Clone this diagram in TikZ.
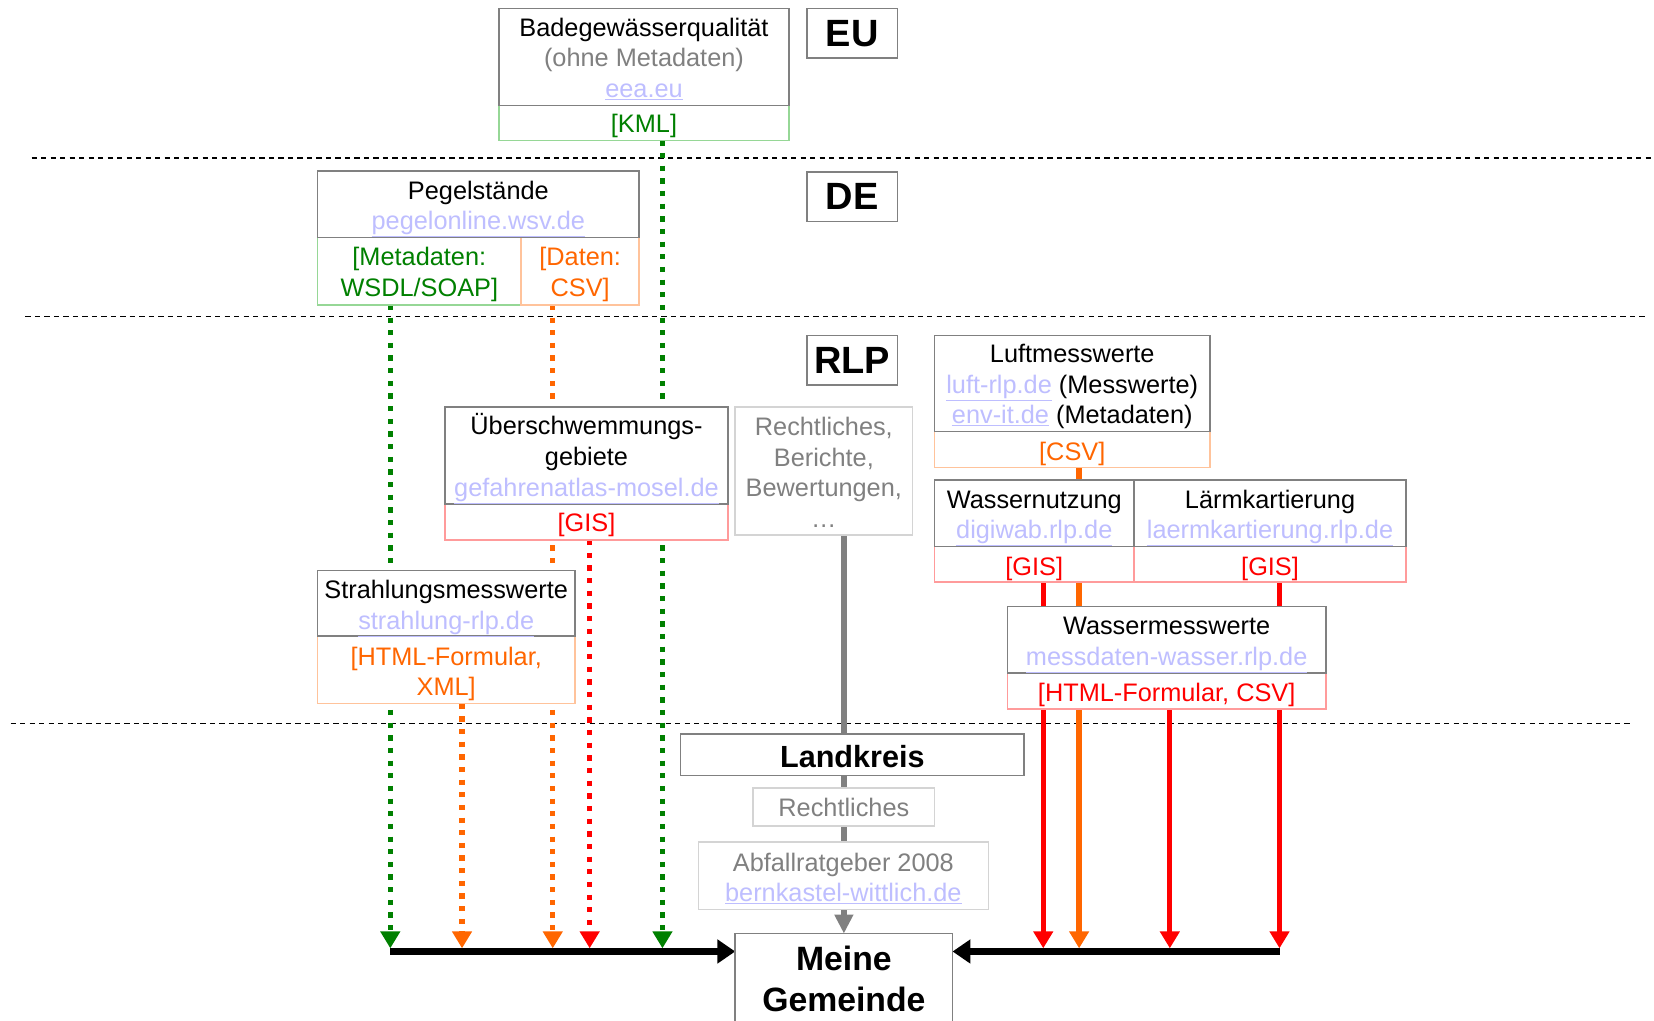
\documentclass[tikz,border=0pt]{standalone}
\usepackage{fontspec}
\setmainfont{Liberation Sans}
\usetikzlibrary{arrows.meta,backgrounds}
\definecolor{dkgreen}{RGB}{0,128,0}
\definecolor{orng}{RGB}{255,102,0}
\definecolor{lnk}{RGB}{190,190,255}
\definecolor{txtgray}{RGB}{128,128,128}
\definecolor{boxgray}{RGB}{128,128,128}
\definecolor{ltgreen}{RGB}{150,215,150}
\definecolor{ltorange}{RGB}{255,195,155}
\definecolor{ltred}{RGB}{255,155,155}
\definecolor{ltgray}{RGB}{212,212,212}
\newcommand\linktext[1]{\textcolor{lnk}{\underline{#1}}}
% text block, lowered by #1 pt inside its box (total size unchanged)
\newcommand\tx[2]{\raisebox{0pt}[\dimexpr\height+#1pt\relax][\dimexpr\depth-#1pt\relax]{\begin{tabular}{@{}c@{}}#2\end{tabular}}}
\tikzset{
  every node/.style={font=\fontsize{24}{29}\selectfont, inner sep=0pt, outer sep=0pt,
    align=center, anchor=north west, fill=white, line width=1.5pt},
  hd/.style={draw=boxgray},
  ftg/.style={draw=ltgreen, text=dkgreen},
  fto/.style={draw=ltorange, text=orng},
  ftr/.style={draw=ltred, text=red},
  lt/.style={draw=ltgray, text=txtgray},
  lvl/.style={draw=boxgray, font=\fontsize{36}{40}\selectfont\bfseries},
  sep/.style={black, line width=1.6pt, dash pattern=on 5pt off 4pt},
  dotl/.style={line width=5pt, dash pattern=on 5pt off 7pt, -{Triangle[width=18pt,length=16pt]}},
  soll/.style={line width=5pt, -{Triangle[width=18pt,length=16pt]}},
  blk/.style={black, line width=6.5pt, -{Triangle[width=22pt,length=17pt]}},
  gry/.style={txtgray, line width=5pt, -{Triangle[width=17pt,length=18pt]}}
}
\begin{document}
\begin{tikzpicture}[x=1pt,y=-1pt]
\useasboundingbox (0,0) rectangle (1568,967);

% level labels
\node[lvl, minimum width=86, minimum height=47] (eu) at (765,8) {EU};
\node[lvl, minimum width=86, minimum height=47] (de) at (765,163) {DE};
\node[lvl, minimum width=86, minimum height=47] (rlp) at (765,318) {RLP};

% EU
\node[ftg, minimum width=275, minimum height=33] (badef) at (473,100) {\tx{3.5}{[KML]}};
\node[hd, minimum width=275, minimum height=92] (bade) at (473,8)
  {\tx{3.7}{Badegewässerqualität\\\textcolor{txtgray}{(ohne Metadaten)}\\\linktext{eea.eu}}};

% DE
\node[ftg, minimum width=193, minimum height=64] (pegelm) at (301,225) {\tx{3.7}{[Metadaten:\\WSDL/SOAP]}};
\node[fto, minimum width=112, minimum height=64] (pegeld) at (494,225) {\tx{3.7}{[Daten:\\CSV]}};
\node[hd, minimum width=305, minimum height=63] (pegel) at (301,162)
  {\tx{4}{Pegelstände\\\linktext{pegelonline.wsv.de}}};

% RLP left
\node[ftr, minimum width=268, minimum height=34] (ueberf) at (422,478) {\tx{3.5}{[GIS]}};
\node[hd, minimum width=268, minimum height=92] (ueber) at (422,386)
  {\tx{3.5}{Überschwemmungs-\\gebiete\\\linktext{gefahrenatlas-mosel.de}}};
\node[lt, minimum width=168, minimum height=121] (recht) at (697,386)
  {\tx{4}{Rechtliches,\\Berichte,\\Bewertungen,\\…}};
\node[fto, minimum width=244, minimum height=64] (strahlf) at (301,603) {\tx{4.2}{[HTML-Formular,\\XML]}};
\node[hd, minimum width=244, minimum height=62] (strahl) at (301,541)
  {\tx{4}{Strahlungsmesswerte\\\linktext{strahlung-rlp.de}}};

% RLP right
\node[fto, minimum width=261, minimum height=34] (luftf) at (886,409) {\tx{4.5}{[CSV]}};
\node[hd, minimum width=261, minimum height=91] (luft) at (886,318)
  {\tx{3.5}{Luftmesswerte\\\linktext{luft-rlp.de} (Messwerte)\\\linktext{env-it.de} (Metadaten)}};
\node[ftr, minimum width=189, minimum height=34] (wnutzf) at (886,518) {\tx{4.5}{[GIS]}};
\node[ftr, minimum width=258, minimum height=34] (laermf) at (1075,518) {\tx{4.5}{[GIS]}};
\node[hd, minimum width=189, minimum height=63] (wnutz) at (886,455)
  {\tx{4}{Wassernutzung\\\linktext{digiwab.rlp.de}}};
\node[hd, minimum width=258, minimum height=63] (laerm) at (1075,455)
  {\tx{4}{Lärmkartierung\\\linktext{laermkartierung.rlp.de}}};
\node[ftr, minimum width=302, minimum height=34] (wmessf) at (955,638) {\tx{4.5}{[HTML-Formular, CSV]}};
\node[hd, minimum width=302, minimum height=63] (wmess) at (955,575)
  {\tx{4}{Wassermesswerte\\\linktext{messdaten-wasser.rlp.de}}};

% Landkreis
\node[hd, minimum width=326, minimum height=39, font=\fontsize{29}{34}\selectfont\bfseries] (landkreis) at (645,696) {\tx{5}{Landkreis}};
\node[lt, minimum width=172, minimum height=36] (recht2) at (714,747) {\tx{3}{Rechtliches}};
\node[lt, minimum width=275, minimum height=64] (abfall) at (662,798)
  {\tx{4.7}{Abfallratgeber 2008\\\linktext{bernkastel-wittlich.de}}};

% Gemeinde
\node[hd, minimum width=206, minimum height=86, font=\fontsize{32}{39}\selectfont\bfseries] (gemeinde) at (697,885) {Meine\\Gemeinde};

% end points
\coordinate (e1) at (370,899);
\coordinate (e2) at (438,899);
\coordinate (e3) at (524,899);
\coordinate (e4) at (559,899);
\coordinate (e5) at (628,899);
\coordinate (r1) at (989,899);
\coordinate (r2) at (1023,899);
\coordinate (r3) at (1109,899);
\coordinate (r4) at (1213,899);
\coordinate (hl) at (370,902);
\coordinate (hr) at (1213,902);

\begin{scope}[on background layer]
  \fill[white] (0,0) rectangle (1568,967);
  \draw[sep] (30,150) -- (1565,150);
  \draw[sep] (24,300) -- (1560,300);
  \draw[sep] (10,686) -- (1545,686);
  \draw[blk] (hl) -- (hl -| gemeinde.west);
  \draw[blk] (hr) -- (hr -| gemeinde.east);
  \draw[dotl, dkgreen] (pegelm.south -| e1) -- (e1);
  \draw[dotl, orng] (strahlf.south -| e2) -- (e2);
  \draw[dotl, orng] (pegeld.south -| e3) -- (e3);
  \draw[dotl, red] (ueberf.south -| e4) -- (e4);
  \draw[dotl, dkgreen] (badef.south -| e5) -- (e5);
  \draw[soll, red] (wnutzf.south -| r1) -- (r1);
  \draw[soll, orng] (luftf.south -| r2) -- (r2);
  \draw[soll, red] (wmessf.south -| r3) -- (r3);
  \draw[soll, red] (laermf.south -| r4) -- (r4);
  \draw[gry] (recht.south -| gemeinde.north) -- (gemeinde.north);
\end{scope}
\end{tikzpicture}
\end{document}
